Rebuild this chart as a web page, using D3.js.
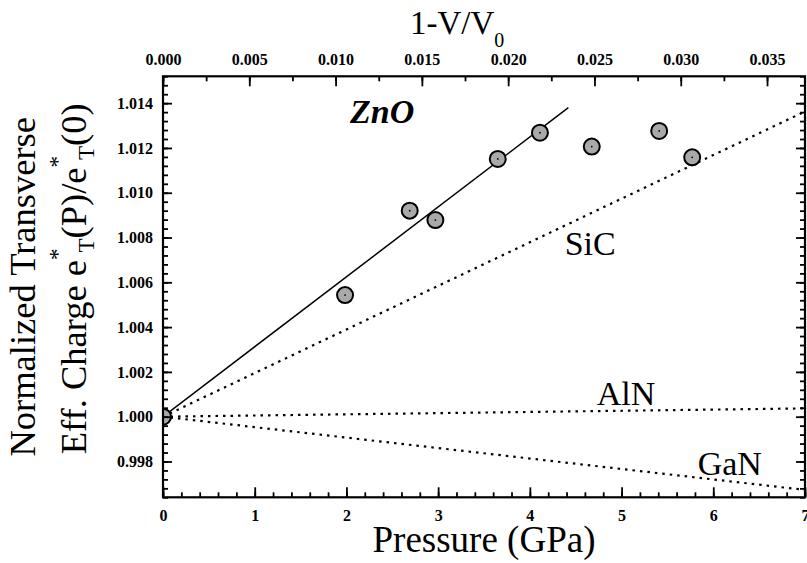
<!DOCTYPE html>
<html>
<head>
<meta charset="utf-8">
<script src="https://cdn.jsdelivr.net/npm/d3@7"></script>
<style>
  body { margin: 0; background: #fff; }
  svg { display: block; }
</style>
</head>
<body>
<svg id="chart" width="807" height="563"></svg>
<script>
// measured ZnO points
let znoPressure = [0, 1.985, 2.69, 2.97, 3.65, 4.11, 4.675, 5.41, 5.77];
let znoCharge = [1.0000, 1.00543, 1.00920, 1.00878, 1.01151, 1.01268, 1.01206, 1.01276, 1.01158];

// linear fit for ZnO and the reference curves (end points)
let fitPressure = [0, 4.42];
let fitCharge = [1.0, 1.0138];
let refPressure = [0, 7];
let sicCharge = [1.0, 1.01363];
let alnCharge = [1.0, 1.00037];
let ganCharge = [1.0, 0.99673];

let curveNames = ['SiC', 'AlN', 'GaN'];
let curveLabelP = [4.38, 4.73, 5.83];
let curveLabelV = [1.00722, 1.00052, 0.99740];

let xTicks = [0, 1, 2, 3, 4, 5, 6, 7];
let topTicks = [0, 0.005, 0.010, 0.015, 0.020, 0.025, 0.030, 0.035];
let yTicks = [0.998, 1.000, 1.002, 1.004, 1.006, 1.008, 1.010, 1.012, 1.014];

const FONT = '"Liberation Serif", "Times New Roman", Times, serif';
const svg = d3.select('#chart');
const mLeft = 163, mRight = 805, mTop = 76.3, mBottom = 497.3;

let x = d3.scaleLinear().domain([0, 7]).range([mLeft, mRight]);
let xTop = d3.scaleLinear().domain([0, 0.0372]).range([mLeft, mRight]);
let y = d3.scaleLinear().domain([0.9964, 1.0152]).range([mBottom, mTop]);

svg.append('clipPath').attr('id', 'clip')
  .append('rect')
  .attr('x', mLeft).attr('y', mTop)
  .attr('width', mRight - mLeft).attr('height', mBottom - mTop);

let plot = svg.append('g').attr('clip-path', 'url(#clip)');

let line = d3.line().x(d => x(d[0])).y(d => y(d[1]));

// dotted reference lines
[sicCharge, alnCharge, ganCharge].forEach(vals => {
  plot.append('path')
    .datum(refPressure.map((p, i) => [p, vals[i]]))
    .attr('d', line)
    .attr('fill', 'none')
    .attr('stroke', '#000')
    .attr('stroke-width', 2.2)
    .attr('stroke-dasharray', '2.5,5');
});

// fit line
plot.append('path')
  .datum(fitPressure.map((p, i) => [p, fitCharge[i]]))
  .attr('d', line)
  .attr('fill', 'none')
  .attr('stroke', '#000')
  .attr('stroke-width', 1.5);

// data points
let pts = znoPressure.map((p, i) => [p, znoCharge[i]]);
plot.selectAll('circle.pt').data(pts).enter().append('circle')
  .attr('class', 'pt')
  .attr('cx', d => x(d[0]))
  .attr('cy', d => y(d[1]))
  .attr('r', 8)
  .attr('fill', '#a9a9a9')
  .attr('stroke', '#000')
  .attr('stroke-width', 2);
plot.selectAll('circle.dot').data(pts).enter().append('circle')
  .attr('class', 'dot')
  .attr('cx', d => x(d[0]))
  .attr('cy', d => y(d[1]))
  .attr('r', 0.9)
  .attr('fill', '#000');

// axes
function minor(lo, hi, step) {
  let out = [];
  for (let v = lo; v <= hi + step / 2; v += step) out.push(+v.toFixed(6));
  return out;
}

let gB = svg.append('g').attr('transform', `translate(0,${mBottom})`);
gB.call(d3.axisBottom(x).tickValues(minor(0, 7, 0.2)).tickSize(-5).tickFormat(''));
let gB2 = svg.append('g').attr('transform', `translate(0,${mBottom})`);
gB2.call(d3.axisBottom(x).tickValues(xTicks).tickSize(-10).tickPadding(12).tickFormat(d3.format('d')));

let gT = svg.append('g').attr('transform', `translate(0,${mTop})`);
gT.call(d3.axisTop(xTop).tickValues(minor(0, 0.0372, 0.0025)).tickSize(-5).tickFormat(''));
let gT2 = svg.append('g').attr('transform', `translate(0,${mTop})`);
gT2.call(d3.axisTop(xTop).tickValues(topTicks).tickSize(-10).tickPadding(11).tickFormat(d3.format('.3f')));

let gL = svg.append('g').attr('transform', `translate(${mLeft},0)`);
gL.call(d3.axisLeft(y).tickValues(minor(0.9964, 1.0152, 0.0004)).tickSize(-5).tickFormat(''));
let gL2 = svg.append('g').attr('transform', `translate(${mLeft},0)`);
gL2.call(d3.axisLeft(y).tickValues(yTicks).tickSize(-9).tickPadding(10).tickFormat(d3.format('.3f')));

let gR = svg.append('g').attr('transform', `translate(${mRight},0)`);
gR.call(d3.axisRight(y).tickValues(minor(0.9964, 1.0152, 0.0004)).tickSize(-5).tickFormat(''));
let gR2 = svg.append('g').attr('transform', `translate(${mRight},0)`);
gR2.call(d3.axisRight(y).tickValues(yTicks).tickSize(-9).tickFormat(''));

svg.selectAll('.domain').remove();
svg.selectAll('.tick line').attr('stroke', '#000').attr('stroke-width', 1.8);
svg.selectAll('.tick text')
  .attr('fill', '#000')
  .style('font-family', FONT)
  .style('font-weight', 'bold')
  .style('font-size', '16px');

svg.append('rect')
  .attr('x', mLeft).attr('y', mTop)
  .attr('width', mRight - mLeft).attr('height', mBottom - mTop)
  .attr('fill', 'none').attr('stroke', '#000').attr('stroke-width', 2.2);

function label(sel) {
  return sel.append('text').attr('fill', '#000').style('font-family', FONT);
}

// curve labels
curveNames.forEach((n, i) => {
  label(svg)
    .attr('x', x(curveLabelP[i])).attr('y', y(curveLabelV[i]))
    .style('font-size', '34px').text(n);
});

label(svg)
  .attr('x', x(2.04)).attr('y', y(1.01311))
  .style('font-size', '34px').style('font-weight', 'bold').style('font-style', 'italic')
  .text('ZnO');

// axis titles
label(svg)
  .attr('x', (mLeft + mRight) / 2).attr('y', 552)
  .attr('text-anchor', 'middle').style('font-size', '37px')
  .text('Pressure (GPa)');

let tt = label(svg)
  .attr('x', 410).attr('y', 34).style('font-size', '33px');
tt.append('tspan').text('1-V/V');
tt.append('tspan').style('font-size', '20px').attr('dy', 13).text('0');

label(svg)
  .attr('transform', `translate(35,${(mTop + mBottom) / 2}) rotate(-90)`)
  .attr('text-anchor', 'middle').style('font-size', '36.5px')
  .text('Normalized Transverse');

let yl2 = label(svg)
  .attr('transform', `translate(86,${(mTop + mBottom) / 2 - 8}) rotate(-90)`)
  .attr('text-anchor', 'middle').style('font-size', '36.5px');
yl2.append('tspan').text('Eff. Charge e');
yl2.append('tspan').style('font-size', '23px').attr('dy', -21).text('*');
yl2.append('tspan').style('font-size', '23px').attr('dx', -4).attr('dy', 29).text('T');
yl2.append('tspan').attr('dy', -8).text('(P)/e');
yl2.append('tspan').style('font-size', '23px').attr('dy', -21).text('*');
yl2.append('tspan').style('font-size', '23px').attr('dx', -4).attr('dy', 29).text('T');
yl2.append('tspan').attr('dy', -8).text('(0)');
</script>
</body>
</html>
